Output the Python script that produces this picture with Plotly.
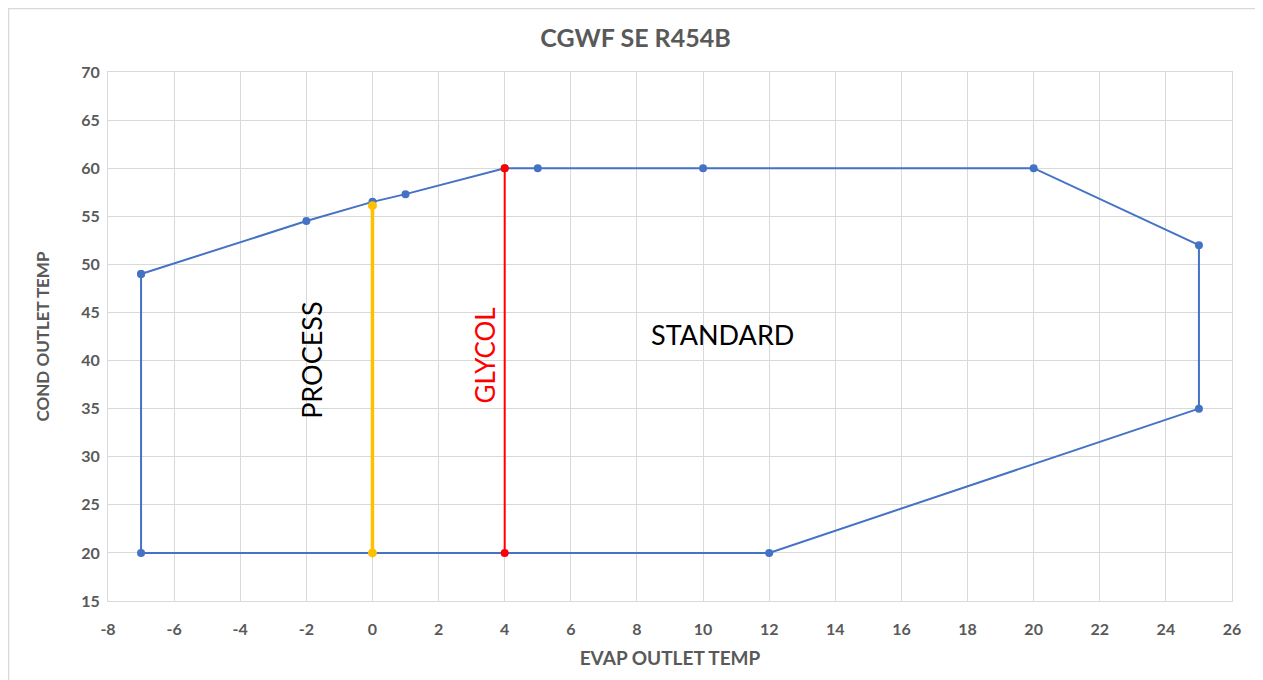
import plotly.graph_objects as go

envelope_x = [-7, -7, 12, 25, 25, 20, 10, 5, 4, 1, 0, -2, -7]
envelope_y = [49, 20, 20, 35, 52, 60, 60, 60, 60, 57.3, 56.5, 54.5, 49]
process_x = [0, 0]
process_y = [20, 56.1]
glycol_x = [4, 4]
glycol_y = [20, 60]

x_ticks = list(range(-8, 27, 2))
x_tick_text = [str(v) for v in x_ticks]
y_ticks = list(range(15, 71, 5))
y_tick_text = [str(v) for v in y_ticks]

labels = ["PROCESS", "GLYCOL", "STANDARD"]
label_x = [-1.85, 3.4, 10.6]
label_y = [40, 40.5, 42.7]

FONT = "Lato"
GRAY = "#595959"

fig = go.Figure()
fig.add_trace(go.Scatter(x=envelope_x, y=envelope_y, mode="lines+markers",
                         line=dict(color="#4472C4", width=2),
                         marker=dict(color="#4472C4", size=8), showlegend=False))
fig.add_trace(go.Scatter(x=process_x, y=process_y, mode="lines+markers",
                         line=dict(color="#FFC000", width=3.5),
                         marker=dict(color="#FFC000", size=9), showlegend=False))
fig.add_trace(go.Scatter(x=glycol_x, y=glycol_y, mode="lines+markers",
                         line=dict(color="#FF0000", width=2),
                         marker=dict(color="#FF0000", size=8), showlegend=False))

colors = ["black", "#FF0000", "black"]
angles = [-90, -90, 0]
sizes = [27, 26, 27]
for t, x, y, c, a, s in zip(labels, label_x, label_y, colors, angles, sizes):
    fig.add_annotation(x=x, y=y, text=t, showarrow=False, textangle=a,
                       font=dict(family=FONT, size=s, color=c))

# outer chart border (top and left edges visible in the reference)
fig.add_shape(type="rect", xref="paper", yref="paper",
              x0=(-100 + 0.5) / 1124, x1=1.1, y0=-0.4, y1=1 + (64 - 0.5) / 529,
              line=dict(color="#D9D9D9", width=1.5), layer="below")

fig.update_layout(
    width=1255, height=672,
    paper_bgcolor="white", plot_bgcolor="white",
    margin=dict(l=100, r=31, t=64, b=79),
    title=dict(text="<b>CGWF SE R454B</b>", x=0.5, xanchor="center", y=0.955, yanchor="middle",
               font=dict(family=FONT, size=25, color=GRAY)),
    font=dict(family=FONT, color=GRAY),
    xaxis=dict(range=[-8, 26], tickvals=x_ticks, ticktext=x_tick_text, showgrid=True,
               gridcolor="#D9D9D9", gridwidth=1,
               zeroline=False, showline=True, linecolor="#D9D9D9", mirror=True,
               ticks="outside", ticklen=14, tickcolor="rgba(0,0,0,0)",
               tickfont=dict(family=FONT, size=16, color=GRAY, weight="bold"),
               title=dict(text="<b>EVAP OUTLET TEMP</b>", font=dict(family=FONT, size=19, color=GRAY), standoff=14)),
    yaxis=dict(range=[15, 70], tickvals=y_ticks, ticktext=y_tick_text, showgrid=True,
               gridcolor="#D9D9D9", gridwidth=1,
               zeroline=False, showline=True, linecolor="#D9D9D9", mirror=True,
               ticks="outside", ticklen=4, tickcolor="rgba(0,0,0,0)",
               tickfont=dict(family=FONT, size=16, color=GRAY, weight="bold"),
               title=dict(text="<b>COND OUTLET TEMP</b>", font=dict(family=FONT, size=17, color=GRAY), standoff=27)),
)

fig.write_html("out.html")
